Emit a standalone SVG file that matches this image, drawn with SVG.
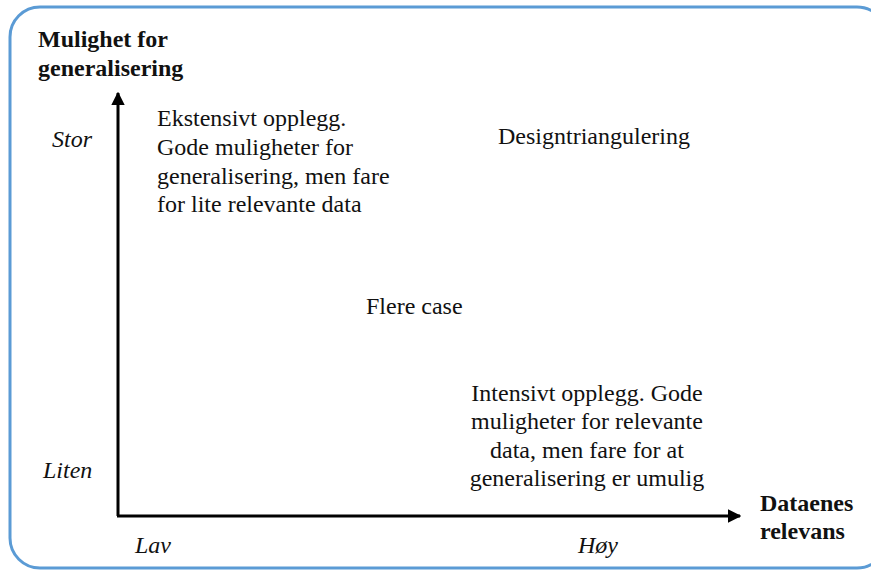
<svg xmlns="http://www.w3.org/2000/svg" width="871" height="570" viewBox="0 0 871 570">
  <style>
    text { font-family: "Liberation Serif", "Times New Roman", serif; font-size: 24px; fill: #111; }
    .bold { font-weight: bold; }
    .ital { font-style: italic; }
    .mid { text-anchor: middle; }
    .axis { stroke: #000; stroke-width: 3; fill: none; }
  </style>
  <defs>
    <marker id="arrow" viewBox="0 0 10 10" refX="9" refY="5" markerWidth="4.5" markerHeight="4.5" markerUnits="strokeWidth" orient="auto">
      <path d="M0,0 L10,5 L0,10 Z" fill="#000"/>
    </marker>
  </defs>
  <rect width="871" height="570" fill="#fff"/>
  <!-- frame -->
  <rect x="10" y="7" width="877" height="561" rx="30" ry="30" fill="none" stroke="#5B9BD5" stroke-width="3"/>

  <!-- axes -->
  <g id="connectors">
    <path class="axis" d="M118,516 L118,93" marker-end="url(#arrow)"/>
    <path class="axis" d="M117,516 L740,516" marker-end="url(#arrow)"/>
  </g>

  <g id="y-axis-title">
    <text class="bold" x="38" y="47">Mulighet for</text>
    <text class="bold" x="38" y="76">generalisering</text>
  </g>
  <g id="x-axis-title">
    <text class="bold" x="760" y="511">Dataenes</text>
    <text class="bold" x="760" y="539">relevans</text>
  </g>

  <g id="y-high"><text class="ital" x="52" y="147">Stor</text></g>
  <g id="y-low"><text class="ital" x="43" y="478">Liten</text></g>
  <g id="x-low"><text class="ital" x="135" y="553">Lav</text></g>
  <g id="x-high"><text class="ital" x="578" y="553">Høy</text></g>

  <g id="extensive">
    <text x="157" y="126">Ekstensivt opplegg.</text>
    <text x="157" y="155">Gode muligheter for</text>
    <text x="157" y="184">generalisering, men fare</text>
    <text x="157" y="212">for lite relevante data</text>
  </g>

  <g id="design-triangulation">
    <text x="498" y="144">Designtriangulering</text>
  </g>

  <g id="multiple-cases">
    <text x="366" y="314">Flere case</text>
  </g>

  <g id="intensive">
    <text class="mid" x="587" y="401">Intensivt opplegg. Gode</text>
    <text class="mid" x="587" y="429">muligheter for relevante</text>
    <text class="mid" x="587" y="458">data, men fare for at</text>
    <text class="mid" x="587" y="486">generalisering er umulig</text>
  </g>
</svg>
